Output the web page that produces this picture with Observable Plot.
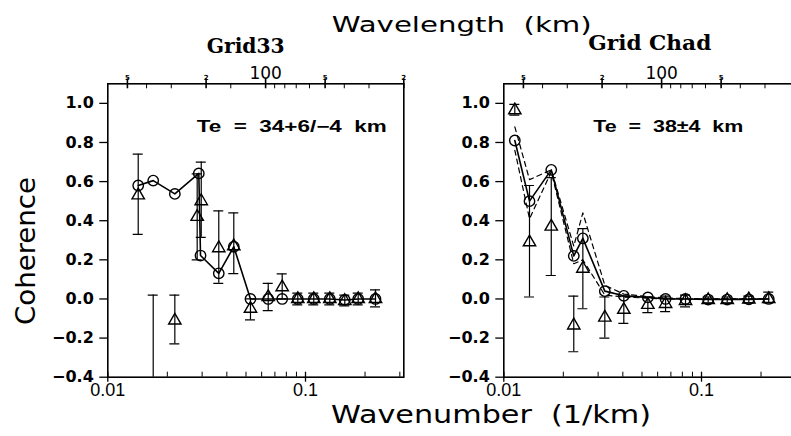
<!DOCTYPE html>
<html><head><meta charset="utf-8">
<script src="https://cdn.jsdelivr.net/npm/d3@7"></script>
<script src="https://cdn.jsdelivr.net/npm/@observablehq/plot@0.6"></script>
<style>
html,body{margin:0;padding:0;background:#fff;overflow:hidden;}
#wrap{position:relative;width:791px;height:436px;overflow:hidden;background:#fff;}
#wrap > svg{position:absolute;top:0;}
text{white-space:pre;}
</style></head><body><div id="wrap"></div>
<script>
// ---- data (wavenumber k in 1/km, coherence) ----
const leftCircleK = [0.01425, 0.01697, 0.02183, 0.02886, 0.02944, 0.03642, 0.04338, 0.05268, 0.06477, 0.07622, 0.0914, 0.1101, 0.1327, 0.158, 0.1847, 0.2259];
const leftCircleV = [0.58, 0.605, 0.537, 0.642, 0.222, 0.131, 0.267, 0.0, 0.0, 0.0, 0.0, 0.0, 0.0, -0.005, 0.0, 0.0];
const leftTriK  = [0.01425, 0.01697, 0.02183, 0.02832, 0.02969, 0.03642, 0.04338, 0.05268, 0.06477, 0.07622, 0.0914, 0.1101, 0.1327, 0.158, 0.1847, 0.2259];
const leftTriV  = [0.53, -0.60, -0.11, 0.42, 0.50, 0.26, 0.27, -0.05, 0.01, 0.06, 0.0, 0.0, 0.0, -0.01, 0.0, 0.0];
const leftTriLo = [0.33, -1.22, -0.23, 0.20, 0.315, 0.08, 0.13, -0.107, -0.06, 0.0, -0.03, -0.03, -0.03, -0.035, -0.03, -0.04];
const leftTriHi = [0.74, 0.02, 0.02, 0.64, 0.70, 0.45, 0.44, 0.0, 0.08, 0.128, 0.03, 0.03, 0.03, 0.02, 0.03, 0.046];

const rightCircleK = [0.01137, 0.01349, 0.01738, 0.02259, 0.02511, 0.03243, 0.04046, 0.05353, 0.0658, 0.0830, 0.1081, 0.1349, 0.1735, 0.2188];
const rightCircleV = [0.81, 0.50, 0.66, 0.22, 0.31, 0.04, 0.016, 0.008, 0.0, 0.0, -0.003, -0.003, -0.002, 0.0];
const rightTriV  = [0.965, 0.29, 0.37, -0.135, 0.155, -0.095, -0.055, -0.03, -0.025, -0.01, -0.005, -0.005, -0.002, 0.0];
const rightTriLo = [0.94, 0.01, 0.12, -0.27, -0.05, -0.20, -0.125, -0.07, -0.065, -0.04, -0.02, -0.02, -0.02, -0.02];
const rightTriHi = [0.995, 0.58, 0.62, 0.015, 0.36, 0.01, 0.015, 0.01, 0.015, 0.02, 0.01, 0.01, 0.015, 0.035];
const rightUpperDash = [0.88, 0.61, 0.66, 0.27, 0.44, 0.07, 0.025, 0.012, 0.005, 0.002, 0, 0, 0, 0];
const rightLowerDash = [0.76, 0.41, 0.65, 0.18, 0.20, 0.02, 0.01, 0.004, 0, 0, 0, 0, 0, 0];

// ---- axes ----
const yTicks = [-0.4, -0.2, 0.0, 0.2, 0.4, 0.6, 0.8, 1.0];
const xMajor = [0.01, 0.1];
const xMajorLabels = ["0.01", "0.1"];
const xMinor = [0.02, 0.03, 0.04, 0.05, 0.06, 0.07, 0.08, 0.09, 0.2, 0.3];
const wlMajor = [500, 200, 100, 50, 20];         // wavelength, km
const wlSmallLabels = ["5", "2", "", "5", "2"];
const wlMainLabel = [100];
const wlMinor = [400, 300, 150, 90, 80, 70, 60, 40, 30];
const titles = ["Grid33", "Grid Chad"];
const teLabels = ["Te  =  34+6/\u22124  km", "Te  =  38\u00b14  km"];

// ---- layout ----
const W = 420, H = 436, mL = 107.3, mR = 16.7, mT = 83.3, mB = 59.3;
const frameW = W - mL - mR, frameH = H - mT - mB;
const pxPerDecade = frameW / Math.log10(Math.PI / 10 / 0.01);
const capF = Math.pow(10, 5 / pxPerDecade);
const toK = l => 2 * Math.PI / l;
const fmtY = d => (d < 0 ? "\u2212" : "") + Math.abs(d).toFixed(1);

function panel(cK, cV, tK, tV, tLo, tHi, dashes, nSmall) {
  const circles = cK.map((k, i) => ({k, v: cV[i]}));
  const tris = tK.map((k, i) => ({k, v: tV[i], lo: tLo[i], hi: tHi[i]}));
  const small = wlMajor.map((l, i) => ({k: toK(l), t: wlSmallLabels[i]})).slice(0, nSmall).filter(d => d.t);
  const marks = [
    // bottom axis
    Plot.ruleX(xMinor, {insetTop: frameH - 5, strokeWidth: 1}),
    Plot.ruleX(xMajor, {insetTop: frameH - 5, insetBottom: -5, strokeWidth: 1.3}),
    Plot.text(xMajor, {x: d => d, text: (d, i) => xMajorLabels[i], frameAnchor: "bottom", lineAnchor: "top", dy: 6, fontSize: 18, fontFamily: "Liberation Sans"}),
    // top (wavelength) axis
    Plot.ruleX(wlMinor.map(toK), {insetBottom: frameH - 5, strokeWidth: 1}),
    Plot.ruleX(wlMajor.map(toK), {insetBottom: frameH - 5, insetTop: -5, strokeWidth: 1.6}),
    Plot.text(small, {x: "k", text: "t", frameAnchor: "top", lineAnchor: "bottom", dy: -4, fontSize: 7, fontWeight: "bold", fontFamily: "DejaVu Sans"}),
    Plot.text(wlMainLabel, {x: toK, text: d => String(d), frameAnchor: "top", lineAnchor: "bottom", dy: -5, fontSize: 17, fontFamily: "DejaVu Sans"}),
    // y axis
    Plot.ruleY(yTicks, {insetLeft: -8, insetRight: frameW, strokeWidth: 1.3}),
    Plot.text(yTicks, {y: d => d, text: fmtY, frameAnchor: "left", textAnchor: "end", dx: -14, fontSize: 16, fontWeight: "bold", fontFamily: "DejaVu Sans"}),
    // error bars
    Plot.ruleX(tris, {x: "k", y1: "lo", y2: "hi", strokeWidth: 1.2, clip: true}),
    Plot.ruleY(tris, {y: "lo", x1: d => d.k / capF, x2: d => d.k * capF, strokeWidth: 1.2, clip: true}),
    Plot.ruleY(tris, {y: "hi", x1: d => d.k / capF, x2: d => d.k * capF, strokeWidth: 1.2, clip: true}),
  ];
  if (dashes) {
    for (const dv of dashes) {
      marks.push(Plot.line(cK.map((k, i) => ({k, v: dv[i]})), {x: "k", y: "v", strokeWidth: 1.2, strokeDasharray: "5,4"}));
    }
  }
  marks.push(
    Plot.line(circles, {x: "k", y: "v", strokeWidth: 1.6}),
    Plot.dot(tris, {x: "k", y: "v", symbol: "triangle", r: 4.6, stroke: "black", fill: "none", strokeWidth: 1.4, clip: true}),
    Plot.dot(circles, {x: "k", y: "v", r: 5.2, stroke: "black", fill: "none", strokeWidth: 1.4}),
    Plot.frame({stroke: "black", strokeWidth: 1.6})
  );
  return Plot.plot({
    width: W, height: H,
    marginLeft: mL, marginRight: mR, marginTop: mT, marginBottom: mB,
    x: {type: "log", domain: [0.01, Math.PI / 10], axis: null},
    y: {domain: [-0.4, 1.1], axis: null},
    style: {fontFamily: "Liberation Sans", fontSize: "16px", color: "black", background: "transparent", overflow: "visible"},
    marks
  });
}

const wrap = document.getElementById("wrap");
const p1 = panel(leftCircleK, leftCircleV, leftTriK, leftTriV, leftTriLo, leftTriHi, null, 5);
p1.style.left = "0px";
wrap.appendChild(p1);
const p2 = panel(rightCircleK, rightCircleV, rightCircleK, rightTriV, rightTriLo, rightTriHi, [rightUpperDash, rightLowerDash], 4);
p2.style.left = "396px";
wrap.appendChild(p2);

// ---- titles overlay ----
const ns = "http://www.w3.org/2000/svg";
const ov = document.createElementNS(ns, "svg");
ov.setAttribute("width", 791); ov.setAttribute("height", 436);
ov.style.left = "0px"; ov.style.pointerEvents = "none";
function addText(str, attrs) {
  const t = document.createElementNS(ns, "text");
  for (const [a, v] of Object.entries(attrs)) t.setAttribute(a, v);
  t.textContent = str;
  ov.appendChild(t);
}
addText("Wavelength  (km)", {x: 331.7, y: 32, "font-family": "DejaVu Sans", "font-size": 22, textLength: 260, lengthAdjust: "spacingAndGlyphs"});
addText("Wavenumber  (1/km)", {x: 331, y: 423, "font-family": "DejaVu Sans", "font-size": 25, textLength: 320, lengthAdjust: "spacingAndGlyphs"});
addText("Coherence", {transform: "translate(35,251) rotate(-90)", "text-anchor": "middle", "font-family": "DejaVu Sans", "font-size": 26, textLength: 148, lengthAdjust: "spacingAndGlyphs"});
addText(titles[0], {x: 206.7, y: 53, "font-family": "DejaVu Serif", "font-weight": "bold", "font-size": 20, textLength: 78, lengthAdjust: "spacingAndGlyphs"});
addText(titles[1], {x: 588.3, y: 50, "font-family": "DejaVu Serif", "font-weight": "bold", "font-size": 20, textLength: 123, lengthAdjust: "spacingAndGlyphs"});
addText(teLabels[0], {x: 196.7, y: 132, "font-family": "Liberation Sans", "font-weight": "bold", "font-size": 16, textLength: 190, lengthAdjust: "spacingAndGlyphs"});
addText(teLabels[1], {x: 593.3, y: 132, "font-family": "Liberation Sans", "font-weight": "bold", "font-size": 16, textLength: 150, lengthAdjust: "spacingAndGlyphs"});
wrap.appendChild(ov);
</script></body></html>
